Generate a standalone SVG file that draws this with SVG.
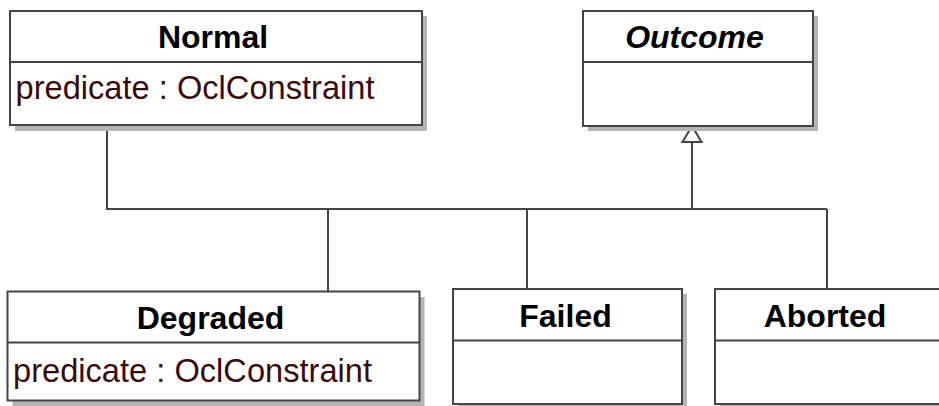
<svg xmlns="http://www.w3.org/2000/svg" width="939" height="406" viewBox="0 0 939 406">
  <defs>
    <style>
      .shadow { fill: #b4b4b4; stroke: none; }
      .box { fill: #ffffff; stroke: #454545; stroke-width: 2; }
      .sep { stroke: #454545; stroke-width: 2; fill: none; }
      .title { font-family: "Liberation Sans", Arial, sans-serif; font-size: 32px; font-weight: bold; fill: #000000; text-anchor: middle; }
      .abstract { font-style: italic; }
      .attr { font-family: "Liberation Sans", Arial, sans-serif; font-size: 32.6px; fill: #3a0a0a; }
      .edge { stroke: #454545; stroke-width: 2; fill: none; }
      .gen { fill: #ffffff; stroke: #454545; stroke-width: 2; stroke-linejoin: miter; }
    </style>
  </defs>
  <rect width="939" height="406" fill="#ffffff"/>

  <!-- generalization connectors -->
  <g id="connectors">
    <polyline class="edge" points="107,125 107,209 827,209"/>
    <line class="edge" x1="328" y1="209" x2="328" y2="291.5"/>
    <line class="edge" x1="527" y1="209" x2="527" y2="289"/>
    <line class="edge" x1="827" y1="209" x2="827" y2="289"/>
    <line class="edge" x1="692" y1="209" x2="692" y2="142"/>
    <polygon class="gen" points="692,126 682.5,142 701.5,142"/>
  </g>

  <g id="normal">
    <rect class="shadow" x="15" y="16" width="412" height="115"/>
    <rect class="box" x="10" y="11" width="412" height="114"/>
    <line class="sep" x1="10" y1="62" x2="422" y2="62"/>
    <text class="title" x="213" y="48">Normal</text>
    <text class="attr" x="15.5" y="99" textLength="359">predicate : OclConstraint</text>
  </g>

  <g id="outcome">
    <rect class="shadow" x="588" y="16" width="230" height="115"/>
    <rect class="box" x="583" y="11" width="230" height="115"/>
    <line class="sep" x1="583" y1="62" x2="813" y2="62"/>
    <text class="title abstract" x="694.5" y="48">Outcome</text>
  </g>

  <g id="degraded">
    <rect class="shadow" x="12.5" y="297" width="412" height="109"/>
    <rect class="box" x="7.5" y="291.5" width="412" height="109"/>
    <line class="sep" x1="7.5" y1="342.5" x2="419.5" y2="342.5"/>
    <text class="title" x="210.5" y="329">Degraded</text>
    <text class="attr" x="13" y="382" textLength="359">predicate : OclConstraint</text>
  </g>

  <g id="failed">
    <rect class="shadow" x="458" y="294" width="229" height="115"/>
    <rect class="box" x="453" y="289" width="229" height="115"/>
    <line class="sep" x1="453" y1="340.5" x2="682" y2="340.5"/>
    <text class="title" x="565.5" y="327">Failed</text>
  </g>

  <g id="aborted">
    <rect class="shadow" x="720" y="294" width="240" height="115"/>
    <rect class="box" x="715" y="289" width="240" height="115"/>
    <line class="sep" x1="715" y1="340.5" x2="955" y2="340.5"/>
    <text class="title" x="825" y="327">Aborted</text>
  </g>
</svg>
